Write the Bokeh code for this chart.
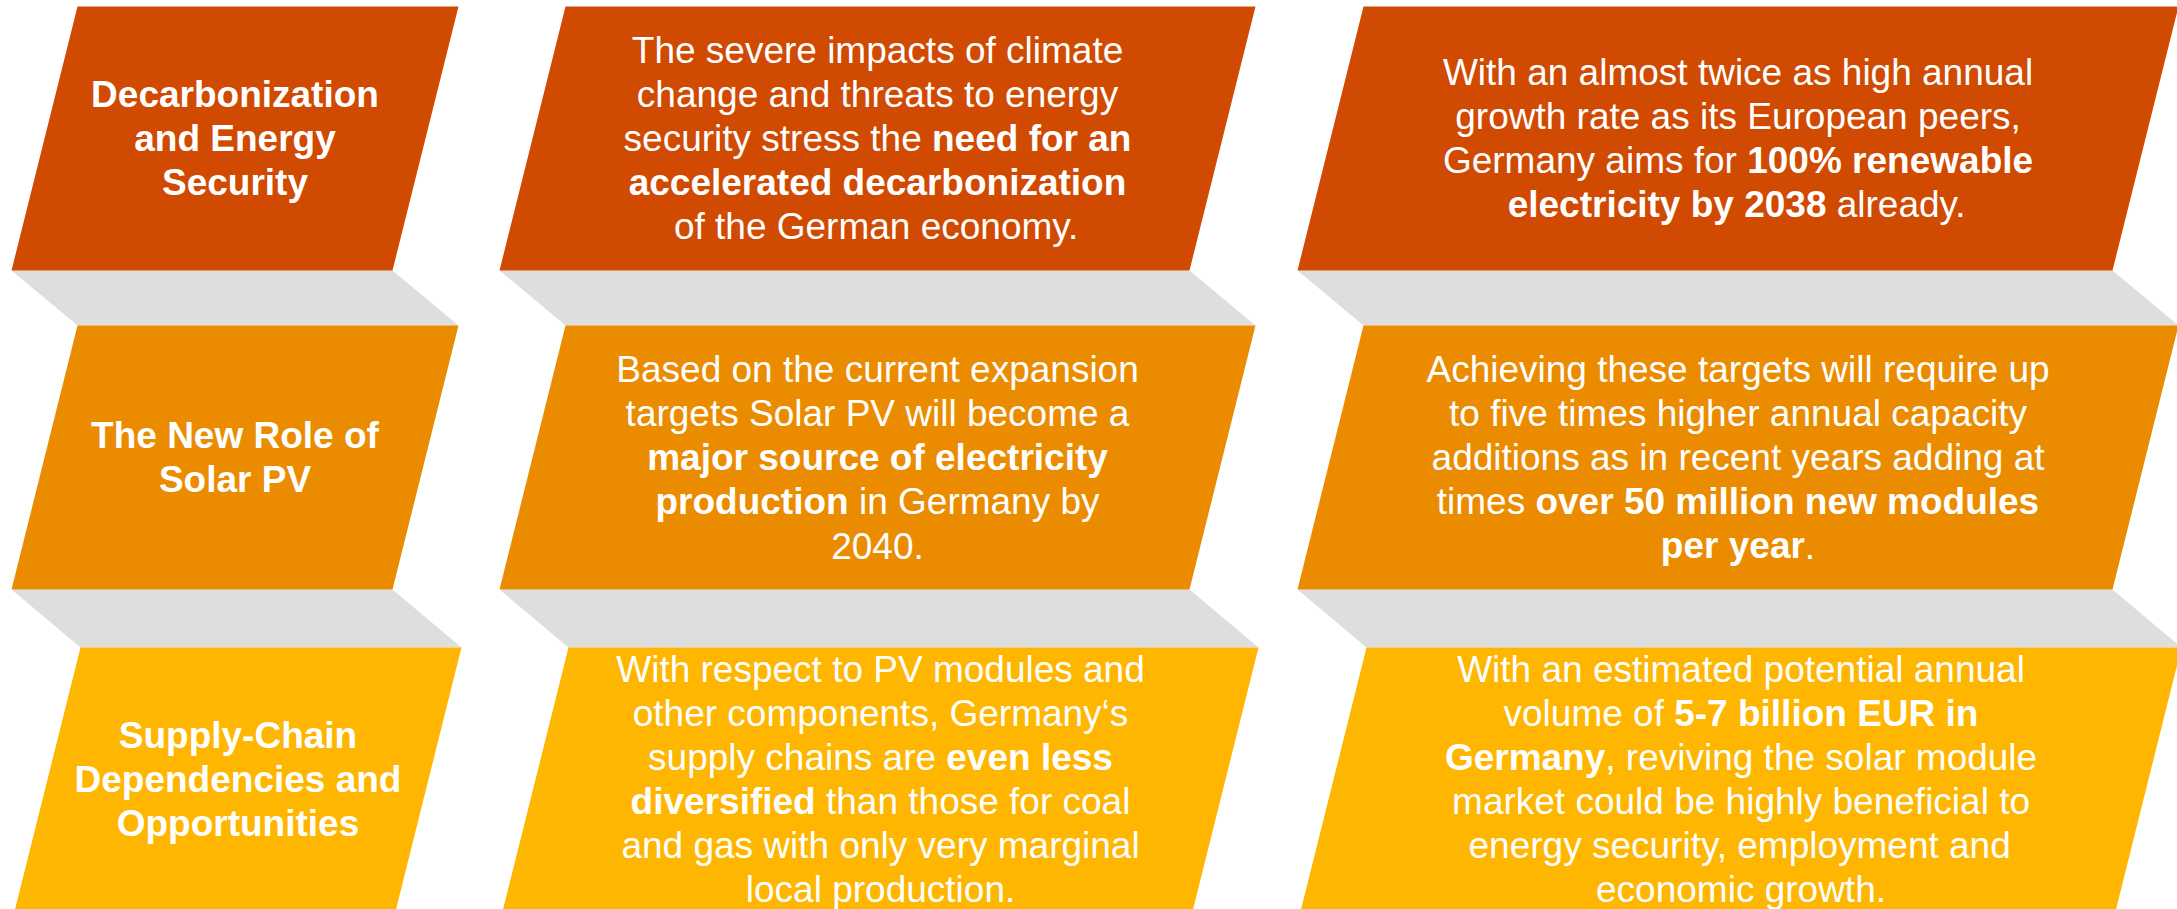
from bokeh.plotting import figure
from bokeh.models import Range1d, ColumnDataSource
from bokeh.core.properties import value
from bokeh.embed import file_html
from bokeh.resources import INLINE

# ---------------- content ----------------
row_names = ["Decarbonization", "Solar PV", "Supply chain"]
row_colors = ["#D04A02", "#EB8C00", "#FFB600"]
connector_color = "#DEDEDE"

titles = [
    "Decarbonization\nand Energy\nSecurity",
    "The New Role of\nSolar PV",
    "Supply-Chain\nDependencies and\nOpportunities",
]
middle_texts = [
    "The severe impacts of climate\nchange and threats to energy\nsecurity stress the **need for an\naccelerated decarbonization**\nof the German economy.",
    "Based on the current expansion\ntargets Solar PV will become a\n**major source of electricity\nproduction** in Germany by\n2040.",
    "With respect to PV modules and\nother components, Germany\u2018s\nsupply chains are **even less\ndiversified** than those for coal\nand gas with only very marginal\nlocal production.",
]
right_texts = [
    "With an almost twice as high annual\ngrowth rate as its European peers,\nGermany aims for **100% renewable\nelectricity by 2038** already.",
    "Achieving these targets will require up\nto five times higher annual capacity\nadditions as in recent years adding at\ntimes **over 50 million new modules\nper year**.",
    "With an estimated potential annual\nvolume of **5-7 billion EUR in\nGermany**, reviving the solar module\nmarket could be highly beneficial to\nenergy security, employment and\neconomic growth.",
]

# ---------------- layout ----------------
CANVAS_W, CANVAS_H = 2177, 909
ROW_TOP = [6, 325, 647]
BOX_H = 264
ROW_DX = [0, 0, 3]
COL_TL = [77, 565, 1363]
COL_W = [381, 690, 815]
SHEAR = 66
FONT_PX = 37
LINE_H = 44
BASE_OFF = 0
FONT = "Liberation Sans"

# Arial / Liberation Sans advance widths (1/1000 em), chars 32..126
_chars = "".join(chr(c) for c in range(32, 127))
_reg = ([278, 278, 355, 556, 556, 889, 667, 191, 333, 333, 389, 584, 278, 333, 278, 278] + [556] * 10 +
        [278, 278, 584, 584, 584, 556, 1015] +
        [667, 667, 722, 722, 667, 611, 778, 722, 278, 500, 667, 556, 833, 722, 778, 667, 778, 722, 667, 611,
         722, 667, 944, 667, 667, 611] +
        [278, 278, 278, 469, 556, 333] +
        [556, 556, 500, 556, 556, 278, 556, 556, 222, 222, 500, 222, 833, 556, 556, 556, 556, 333, 500, 278,
         556, 500, 722, 500, 500, 500] +
        [334, 260, 334, 584])
_bold = ([278, 333, 474, 556, 556, 889, 722, 238, 333, 333, 389, 584, 278, 333, 278, 278] + [556] * 10 +
         [333, 333, 584, 584, 584, 611, 975] +
         [722, 722, 722, 722, 667, 611, 778, 722, 278, 556, 722, 611, 833, 722, 778, 667, 778, 722, 667, 611,
          722, 667, 944, 667, 667, 611] +
         [333, 278, 333, 584, 556, 333] +
         [556, 611, 556, 611, 556, 333, 611, 611, 278, 278, 556, 278, 889, 611, 611, 611, 611, 389, 556, 333,
          611, 556, 778, 556, 556, 500] +
         [389, 280, 389, 584])
W_REG = dict(zip(_chars, _reg))
W_BOLD = dict(zip(_chars, _bold))
W_REG["\u2018"] = 222
W_BOLD["\u2018"] = 278


def text_width(s, bold):
    table = W_BOLD if bold else W_REG
    return sum(table.get(ch, 556) for ch in s) * FONT_PX / 1000.0


def box_geom(r, c):
    top = ROW_TOP[r]
    bot = top + BOX_H
    tl = COL_TL[c] + ROW_DX[r]
    tr = tl + COL_W[c]
    bl = tl - SHEAR
    br = tr - SHEAR
    return top, bot, tl, tr, bl, br


# shapes
shape_xs, shape_ys, shape_col = [], [], []
for c in range(3):
    for r in range(2):
        t0, b0, tl0, tr0, bl0, br0 = box_geom(r, c)
        t1, b1, tl1, tr1, bl1, br1 = box_geom(r + 1, c)
        shape_xs.append([bl0, br0, tr1, tl1])
        shape_ys.append([b0, b0, t1, t1])
        shape_col.append(connector_color)
for c in range(3):
    for r in range(3):
        t, b, tl, tr, bl, br = box_geom(r, c)
        shape_xs.append([tl, tr, br, bl])
        shape_ys.append([t, t, b, b])
        shape_col.append(row_colors[r])

shapes = ColumnDataSource(dict(xs=shape_xs, ys=shape_ys, color=shape_col))

# text segments
reg_seg = dict(x=[], y=[], text=[])
bold_seg = dict(x=[], y=[], text=[])


def layout_text(markup, r, c, all_bold=False):
    t, b, tl, tr, bl, br = box_geom(r, c)
    cx = (tl + tr + bl + br) / 4.0
    cy = (t + b) / 2.0
    lines = markup.split("\n")
    n = len(lines)
    bold = all_bold
    for i, line in enumerate(lines):
        parts = line.split("**")
        segs = []
        for k, part in enumerate(parts):
            if k > 0:
                bold = not bold
            if part:
                segs.append((part, bold or all_bold))
        total = sum(text_width(s, bb) for s, bb in segs)
        x = cx - total / 2.0
        y = cy + (i - (n - 1) / 2.0) * LINE_H + BASE_OFF
        for s, bb in segs:
            lead = len(s) - len(s.lstrip(" "))
            xs = x + text_width(" " * lead, bb)
            target = bold_seg if bb else reg_seg
            if s.strip():
                target["x"].append(xs)
                target["y"].append(y)
                target["text"].append(s.strip())
            x += text_width(s, bb)


for r in range(3):
    layout_text(titles[r], r, 0, all_bold=True)
    layout_text(middle_texts[r], r, 1)
    layout_text(right_texts[r], r, 2)

p = figure(width=CANVAS_W, height=CANVAS_H, x_range=Range1d(0, CANVAS_W), y_range=Range1d(CANVAS_H, 0),
           output_backend="svg", toolbar_location=None, min_border=0,
           x_axis_location=None, y_axis_location=None)
p.grid.visible = False
p.outline_line_color = None
p.background_fill_color = "white"
p.border_fill_color = "white"

p.patches("xs", "ys", source=shapes, fill_color="color", line_color=None)

p.text("x", "y", text="text", source=ColumnDataSource(reg_seg), text_color="white",
       text_font=value(FONT), text_font_size=value(f"{FONT_PX}px"), text_font_style="normal",
       text_align="left", text_baseline="alphabetic")
p.text("x", "y", text="text", source=ColumnDataSource(bold_seg), text_color="white",
       text_font=value(FONT), text_font_size=value(f"{FONT_PX}px"), text_font_style="bold",
       text_align="left", text_baseline="alphabetic")

open("out.html", "w").write(file_html(p, INLINE))
